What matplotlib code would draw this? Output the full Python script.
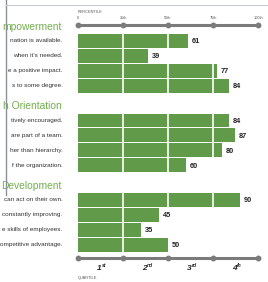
import matplotlib
matplotlib.use("Agg")
import matplotlib.pyplot as plt
from matplotlib.lines import Line2D

# data (left side of the screenshot is cropped,
# so the texts are the visible parts only)
sections = ["mpowerment", "h Orientation", "Development"]
labels = [
    ["nation is available.",
     "when it's needed.",
     "e a positive impact.",
     "s to some degree."],
    ["tively encouraged.",
     "are part of a team.",
     "her than hierarchy.",
     "f the organization."],
    ["can act on their own.",
     "constantly improving.",
     "e skills of employees.",
     "ompetitive advantage."],
]
values = [
    [61, 39, 77, 84],
    [84, 87, 80, 60],
    [90, 45, 35, 50],
]
pct_ticks = [0, 25, 50, 75, 100]
pct_labels = ["0", "25th", "50th", "75th", "100th"]
quartiles = ["1", "2", "3", "4"]
quartile_sfx = ["st", "nd", "rd", "th"]

BAR = "#619a48"
TITLE = "#72b04e"
AXIS = "#7b7b7b"
GAP = 1.3

plt.rcParams['font.family'] = ['Liberation Sans', 'DejaVu Sans']

fig = plt.figure(figsize=(2.68, 2.82), dpi=100)
ax = fig.add_axes([0, 0, 1, 1])
ax.set_xlim(-43.33, 105.56)
ax.set_ylim(16.07, -2.733)
ax.axis("off")

for k, sec in enumerate(sections):
    start = k * (4 + GAP)
    ax.text(-8.9, start - 0.95, sec, ha="right", va="center",
            fontsize=7.4, color=TITLE)
    for i, (lab, v) in enumerate(zip(labels[k], values[k])):
        y = start + i
        ax.barh(y, v, height=0.93, left=0, color=BAR, edgecolor="none")
        for t in pct_ticks[1:-1]:
            if v > t:
                ax.vlines(t, y - 0.465, y + 0.465, color="white", lw=1.2)
        ax.text(-8.6, y, lab, ha="right", va="center", fontsize=4.6,
                color="#333333")
        ax.text(v + 2.2, y + 0.05, str(v), ha="left", va="center",
                fontsize=5.3, fontweight="bold", color="#222222")

# top percentile axis
ax.plot([0, 100], [-1.07, -1.07], color=AXIS, lw=2.2, solid_capstyle="butt")
ax.plot(pct_ticks, [-1.07] * 5, "o", color=AXIS, ms=3.2)
for t, s in zip(pct_ticks, pct_labels):
    ax.text(t, -1.55, s, ha="center", va="center", fontsize=2.8,
            color="#555555")
ax.text(0, -1.95, "PERCENTILE", ha="left", va="center", fontsize=2.8,
        color="#555555")

# bottom quartile axis
ax.plot([0, 100], [14.47, 14.47], color=AXIS, lw=2.2, solid_capstyle="butt")
ax.plot(pct_ticks, [14.47] * 5, "o", color=AXIS, ms=3.2)
for j, (q, sfx) in enumerate(zip(quartiles, quartile_sfx)):
    xm = 12.5 + 25 * j
    ax.text(xm + 0.6, 15.2, q, ha="right", va="center", fontsize=6,
            fontweight="bold", fontstyle="italic", color="#222222")
    ax.text(xm + 0.8, 14.95, sfx, ha="left", va="center", fontsize=3.6,
            fontweight="bold", fontstyle="italic", color="#222222")
ax.text(0, 15.82, "QUARTILE", ha="left", va="center", fontsize=2.8,
        color="#555555")

# page frame lines from the screenshot
fig.add_artist(Line2D([6 / 268, 6 / 268], [1, 1 - 195 / 282],
                      color="#8a8f99", lw=1.0))
fig.add_artist(Line2D([6 / 268, 1], [1 - 5 / 282, 1 - 5 / 282],
                      color="#c8ccd4", lw=0.8))

fig.savefig("out.png", dpi=100)
